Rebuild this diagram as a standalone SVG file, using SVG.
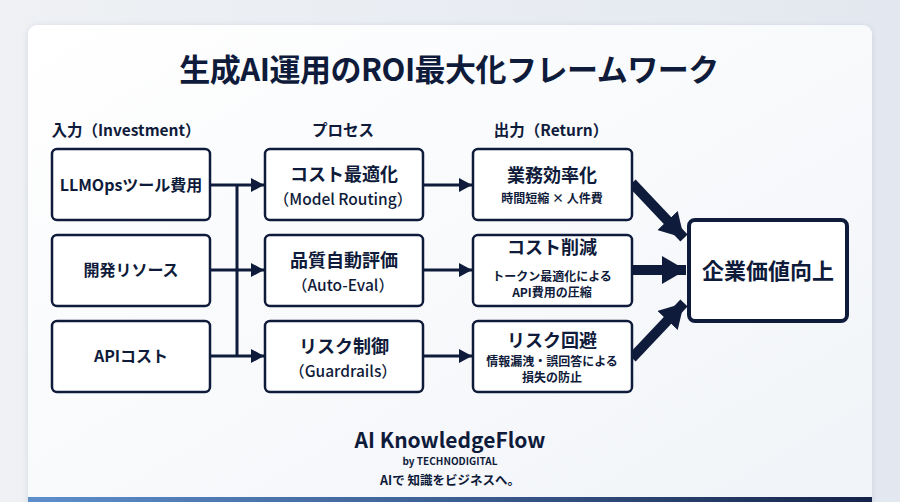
<svg xmlns="http://www.w3.org/2000/svg" width="900" height="502" viewBox="0 0 900 502">
<defs>
<linearGradient id="bg" x1="0" y1="0" x2="1" y2="0">
<stop offset="0" stop-color="#eff1f4"/><stop offset="1" stop-color="#e3e8f0"/>
</linearGradient>
<linearGradient id="card" x1="0" y1="0" x2="1" y2="1">
<stop offset="0" stop-color="#ffffff"/><stop offset="1" stop-color="#f1f4f8"/>
</linearGradient>
<linearGradient id="bar" x1="0" y1="0" x2="1" y2="0">
<stop offset="0" stop-color="#5d8fcc"/><stop offset="0.5" stop-color="#3c5f93"/><stop offset="1" stop-color="#15234a"/>
</linearGradient>
<filter id="sh" x="-5%" y="-5%" width="110%" height="110%">
<feDropShadow dx="0" dy="1" stdDeviation="3" flood-color="#9aa6b8" flood-opacity="0.35"/>
</filter>
<marker id="ah" markerUnits="userSpaceOnUse" markerWidth="14" markerHeight="14" refX="13" refY="7" orient="auto">
<path d="M0,0 L13,7 L0,14 Z" fill="#0f1b3a"/>
</marker>
<marker id="big" markerUnits="userSpaceOnUse" markerWidth="26" markerHeight="28" refX="24" refY="14" orient="auto">
<path d="M0,0 L24,14 L0,28 Z" fill="#0f1b3a"/>
</marker>
</defs>
<style>
.t{font-family:"Noto Sans CJK JP","Noto Sans",sans-serif;fill:#0f1b3a;text-anchor:middle;font-weight:700}
.box{fill:#ffffff;stroke:#0f1b3a;stroke-width:2.5}
.ln{stroke:#0f1b3a;stroke-width:3;fill:none}
.th{stroke:#0f1b3a;stroke-width:10;fill:none}
.h{font-size:15.5px}
.in{font-size:16px}
.p1{font-size:18px}
.p2{font-size:15.5px;font-weight:500}
.o1{font-size:18px}
.o2{font-size:12px}
</style>
<rect width="900" height="502" fill="url(#bg)"/>
<rect x="28" y="25" width="844" height="490" rx="9" fill="url(#card)" filter="url(#sh)"/>
<rect x="28" y="497" width="844" height="5" fill="url(#bar)"/>

<text class="t" x="449" y="81" font-size="31" letter-spacing="-0.5">生成AI運用のROI最大化フレームワーク</text>
<text class="t h" x="126" y="136">入力（Investment）</text>
<text class="t h" x="343" y="136">プロセス</text>
<text class="t h" x="551" y="136">出力（Return）</text>

<g id="connectors">
<line class="ln" x1="210" y1="185" x2="264" y2="185" marker-end="url(#ah)"/>
<line class="ln" x1="210" y1="270" x2="264" y2="270" marker-end="url(#ah)"/>
<line class="ln" x1="210" y1="356" x2="264" y2="356" marker-end="url(#ah)"/>
<line class="ln" x1="237" y1="186" x2="237" y2="356"/>
<line class="ln" x1="423" y1="185" x2="472" y2="185" marker-end="url(#ah)"/>
<line class="ln" x1="423" y1="270" x2="472" y2="270" marker-end="url(#ah)"/>
<line class="ln" x1="423" y1="356" x2="472" y2="356" marker-end="url(#ah)"/>
<line class="th" x1="632" y1="183" x2="684" y2="238" marker-end="url(#big)"/>
<line class="th" x1="632" y1="270" x2="686" y2="270" marker-end="url(#big)"/>
<line class="th" x1="632" y1="358" x2="684" y2="303" marker-end="url(#big)"/>
</g>

<g id="in1"><rect class="box" x="52" y="149" width="158" height="71" rx="5"/><text class="t in" x="131" y="191">LLMOpsツール費用</text></g>
<g id="in2"><rect class="box" x="52" y="235" width="158" height="71" rx="5"/><text class="t in" x="131" y="276">開発リソース</text></g>
<g id="in3"><rect class="box" x="52" y="321" width="158" height="71" rx="5"/><text class="t in" x="131" y="362">APIコスト</text></g>

<g id="pr1"><rect class="box" x="265" y="149" width="158" height="71" rx="5"/><text class="t p1" x="344" y="181">コスト最適化</text><text class="t p2" x="343" y="205">（Model Routing）</text></g>
<g id="pr2"><rect class="box" x="265" y="235" width="158" height="71" rx="5"/><text class="t p1" x="344" y="267">品質自動評価</text><text class="t p2" x="343" y="291">（Auto-Eval）</text></g>
<g id="pr3"><rect class="box" x="265" y="321" width="158" height="71" rx="5"/><text class="t p1" x="344" y="353">リスク制御</text><text class="t p2" x="343" y="377">（Guardrails）</text></g>

<g id="out1"><rect class="box" x="473" y="149" width="159" height="71" rx="5"/><text class="t o1" x="552" y="182">業務効率化</text><text class="t o2" x="552" y="203">時間短縮 × 人件費</text></g>
<g id="out2"><rect class="box" x="473" y="235" width="159" height="71" rx="5"/><text class="t o1" x="552" y="254">コスト削減</text><text class="t o2" x="552" y="281">トークン最適化による</text><text class="t o2" x="552" y="297">API費用の圧縮</text></g>
<g id="out3"><rect class="box" x="473" y="321" width="159" height="71" rx="5"/><text class="t o1" x="552" y="347">リスク回避</text><text class="t o2" x="552" y="366">情報漏洩・誤回答による</text><text class="t o2" x="552" y="382">損失の防止</text></g>

<g id="final"><rect x="689" y="220" width="158" height="101" rx="6" fill="#ffffff" stroke="#0f1b3a" stroke-width="4"/><text class="t" x="768" y="279" font-size="22">企業価値向上</text></g>

<g id="footer">
<text class="t" x="450" y="448" font-size="21" font-family="'Open Sans','Noto Sans',sans-serif">AI KnowledgeFlow</text>
<text class="t" x="450" y="465" font-size="10">by TECHNODIGITAL</text>
<text class="t" x="450" y="485" font-size="12.5" font-weight="500">AIで 知識をビジネスへ。</text>
</g>
</svg>
